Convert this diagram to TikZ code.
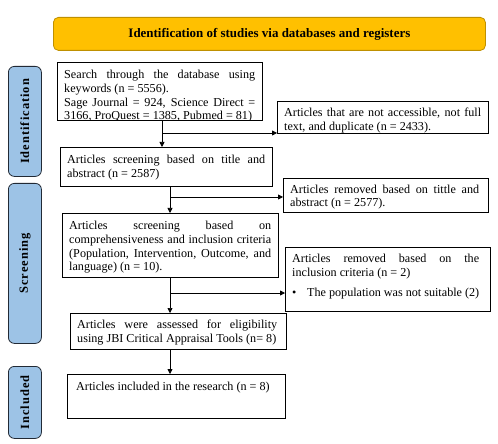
\documentclass[tikz,border=0pt]{standalone}
\usepackage{fontspec}
\setmainfont{Liberation Serif}
\usepackage{xcolor}
\usetikzlibrary{positioning, arrows.meta}
\definecolor{headgold}{HTML}{FFC000}
\definecolor{headedge}{HTML}{BF9000}
\definecolor{phaseblue}{HTML}{9DC3E6}
\definecolor{phaseedge}{HTML}{222A35}
\hyphenpenalty=10000
\exhyphenpenalty=10000
\tolerance=10000

\begin{document}
\begin{tikzpicture}[x=1bp, y=-1bp,
  frame/.style={draw, line width=0.75pt, anchor=north west, inner sep=0pt},
  txt/.style={anchor=north west, inner xsep=7bp, inner ysep=8bp, align=justify,
    font=\fontsize{12.2}{13.8}\selectfont},
  phase/.style={draw=phaseedge, fill=phaseblue, line width=0.8pt, rounded corners=6bp,
    anchor=north west, inner sep=0pt, minimum width=33bp},
  phaselbl/.style={rotate=90, font=\fontsize{12.5}{14}\selectfont\bfseries\addfontfeatures{LetterSpace=8}},
  arr/.style={line width=0.75pt, -{Triangle[length=5bp, width=5bp]}}]
  \useasboundingbox (0,0) rectangle (498,444);

  % header
  \node[draw=headedge, fill=headgold, line width=0.8pt, rounded corners=5bp, anchor=north west,
        minimum width=432bp, minimum height=33bp, font=\fontsize{13}{15}\selectfont\bfseries]
        (head) at (53,17) {Identification of studies via databases and registers};

  % phases
  \node[phase, minimum height=110bp] (idph) at (8,66) {};
  \node[phaselbl] (idlbl) at (idph.center) {Identification};
  \node[phase, minimum height=160bp] (scph) at (8,183) {};
  \node[phaselbl] (sclbl) at (scph.center) {Screening};
  \node[phase, minimum height=72bp] (inph) at (8,366) {};
  \node[phaselbl] (inlbl) at (inph.center) {Included};

  % main column
  \begin{scope}
    \clip (57,62) rectangle (262,120);
    \node[txt, text width=191bp] (search-t) at (57,62)
      {Search through the database using keywords (n = 5556).\\
       Sage Journal = 924, Science Direct = 3166, ProQuest = 1385, Pubmed = 81)};
  \end{scope}
  \node[frame, minimum width=205bp, minimum height=58bp] (search) at (57,62) {};

  \node[frame, minimum width=212bp, minimum height=39bp] (title) at (60,147) {};
  \node[txt, text width=198bp] (title-t) at (title.north west)
    {Articles screening based on title and abstract (n = 2587)};

  \node[frame, minimum width=216bp, minimum height=64bp] (compr) at (62,213) {};
  \node[txt, text width=202bp] (compr-t) at (compr.north west)
    {Articles screening based on comprehensiveness and inclusion criteria
     (Population, Intervention, Outcome, and language) (n = 10).};

  \node[frame, minimum width=216bp, minimum height=36bp] (jbi) at (70,313) {};
  \node[txt, text width=200bp, inner ysep=7bp] (jbi-t) at (jbi.north west)
    {Articles were assessed for eligibility\linebreak{} using JBI Critical Appraisal Tools (n= 8)};

  \node[frame, minimum width=218bp, minimum height=44bp] (incl) at (67,374) {};
  \node[txt, text width=200bp, inner xsep=9bp] (incl-t) at (incl.north west)
    {Articles included in the research (n = 8)};

  % excluded column
  \node[frame, minimum width=211bp, minimum height=32bp] (excl1) at (277,101) {};
  \node[txt, text width=197bp, inner ysep=6.5bp] (excl1-t) at (excl1.north west)
    {Articles that are not accessible, not full text, and duplicate (n = 2433).};

  \node[frame, minimum width=205bp, minimum height=34bp] (excl2) at (283,178) {};
  \node[txt, text width=189bp, inner ysep=6.5bp] (excl2-t) at (excl2.north west)
    {Articles removed based on tittle and abstract (n = 2577).};

  \node[frame, minimum width=205bp, minimum height=64bp] (excl3) at (285,247) {};
  \node[txt, text width=187bp, inner ysep=7bp] (excl3-t) at (excl3.north west)
    {Articles removed based on the\linebreak{} inclusion criteria (n = 2)\par\vspace{6bp}
     \makebox[15bp][l]{\textbullet}The population was not suitable (2)};

  % arrows
  \coordinate (s1) at (162,133);
  \coordinate (s2) at (170,197);
  \coordinate (s3) at (170,293);
  \coordinate (s4) at (170,360);
  \draw[arr] (search.south -| s1) -- (title.north -| s1);
  \draw[arr] (s1) -- (s1 -| excl1.west);
  \draw[arr] (title.south -| s2) -- (compr.north -| s2);
  \draw[arr] (s2) -- (s2 -| excl2.west);
  \draw[arr] (compr.south -| s3) -- (jbi.north -| s3);
  \draw[arr] (s3) -- (s3 -| excl3.west);
  \draw[arr] (jbi.south -| s4) -- (incl.north -| s4);
\end{tikzpicture}
\end{document}
